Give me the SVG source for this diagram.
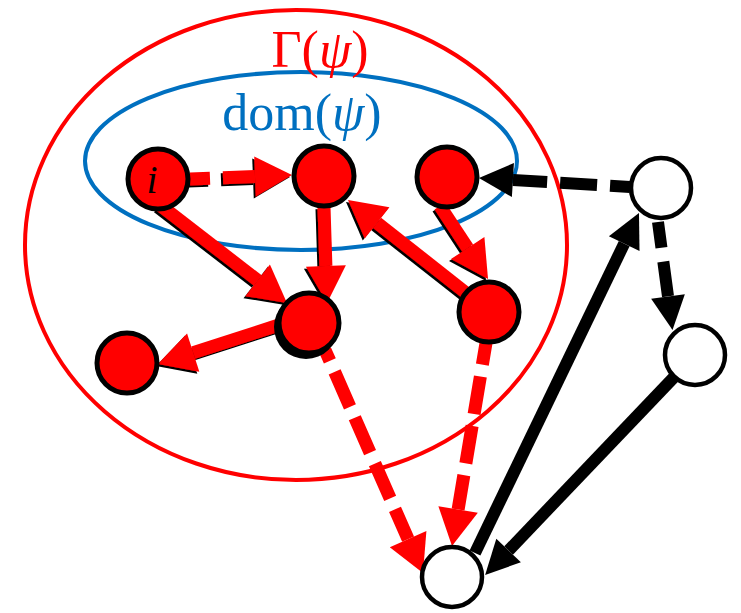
<svg xmlns="http://www.w3.org/2000/svg" width="741" height="613" viewBox="0 0 741 613">
<style>
.red{fill:#ff0000;stroke:#000;stroke-width:5}
.white{fill:#fff;stroke:#000;stroke-width:4.5}
.re{stroke:#ff0000;stroke-width:13;fill:none}
.bk{stroke:#000;stroke-width:12;fill:none}
.lbl{font-family:"Liberation Serif",serif;font-size:52px}
</style>
<defs>
<filter id="sh" x="-20%" y="-20%" width="140%" height="140%">
<feFlood flood-color="#000"/>
<feComposite in2="SourceAlpha" operator="in"/>
<feOffset dx="-2" dy="2" result="s"/>
<feMerge><feMergeNode in="s"/><feMergeNode in="SourceGraphic"/></feMerge>
</filter>
<marker id="ar" markerUnits="userSpaceOnUse" markerWidth="40" markerHeight="42" refX="0" refY="20" orient="auto" overflow="visible">
<path d="M0,0 L37,20 L0,40 z" fill="#ff0000"/>
</marker>
<marker id="ab" markerUnits="userSpaceOnUse" markerWidth="36" markerHeight="36" refX="0" refY="17" orient="auto" overflow="visible">
<path d="M0,0 L34,17 L0,34 z" fill="#000"/>
</marker>
</defs>
<ellipse cx="296" cy="245" rx="271" ry="235" fill="none" stroke="#ff0000" stroke-width="4"/>
<ellipse cx="301" cy="161" rx="216" ry="89" fill="none" stroke="#0070c0" stroke-width="4"/>
<text class="lbl" x="320" y="67" text-anchor="middle" fill="#ff0000">Γ(<tspan font-style="italic">ψ</tspan>)</text>
<text class="lbl" x="302" y="130" text-anchor="middle" fill="#0070c0">dom(<tspan font-style="italic">ψ</tspan>)</text>
<g id="connectors">
<g filter="url(#sh)">
<line class="re" x1="190" y1="179" x2="255" y2="176.5" stroke-dasharray="20 13 60" marker-end="url(#ar)"/>
<line class="re" x1="160" y1="205" x2="257.7" y2="280.4" marker-end="url(#ar)"/>
<line class="re" x1="324" y1="207" x2="325.9" y2="266" marker-end="url(#ar)"/>
<line class="re" x1="470" y1="296" x2="377.1" y2="222.9" marker-end="url(#ar)"/>
<line class="re" x1="440" y1="206" x2="467.7" y2="248.1" marker-end="url(#ar)"/>
<line class="re" x1="285" y1="323" x2="193.2" y2="352.6" marker-end="url(#ar)"/>
</g>
<line class="re" x1="325" y1="350" x2="408.1" y2="539.1" stroke-dasharray="12 12 38 12 38 12 38 12 80" marker-end="url(#ar)"/>
<line class="re" x1="486" y1="343" x2="458.1" y2="509.5" stroke-dasharray="22 12 38 12 38 12 80" marker-end="url(#ar)"/>
<line class="bk" x1="630" y1="187" x2="512.9" y2="180" stroke-dasharray="20 13 37 13 60" marker-end="url(#ab)"/>
<line class="bk" x1="658" y1="222" x2="668" y2="296.4" stroke-dasharray="26 14 60" marker-end="url(#ab)"/>
<line class="bk" x1="475" y1="553" x2="624.2" y2="243.6" marker-end="url(#ab)"/>
<line class="bk" x1="678" y1="373" x2="508.6" y2="550.5" marker-end="url(#ab)"/>
</g>
<g id="node-i"><circle class="red" cx="158" cy="179" r="30"/><text x="152" y="193" font-family="Liberation Serif,serif" font-size="40" font-style="italic" text-anchor="middle">i</text></g>
<g id="node-2"><circle class="red" cx="324" cy="176" r="30"/></g>
<g id="node-3"><circle class="red" cx="447" cy="177" r="30"/></g>
<g id="node-4"><circle cx="306" cy="327" r="32" fill="#000"/><circle class="red" cx="309" cy="323" r="30"/></g>
<g id="node-5"><circle class="red" cx="489" cy="312" r="30"/></g>
<g id="node-6"><circle class="red" cx="127" cy="363" r="30"/></g>
<g id="node-w1"><circle class="white" cx="661" cy="188" r="30"/></g>
<g id="node-w2"><circle class="white" cx="695" cy="355" r="30"/></g>
<g id="node-w3"><circle class="white" cx="452" cy="577" r="30"/></g>
</svg>
